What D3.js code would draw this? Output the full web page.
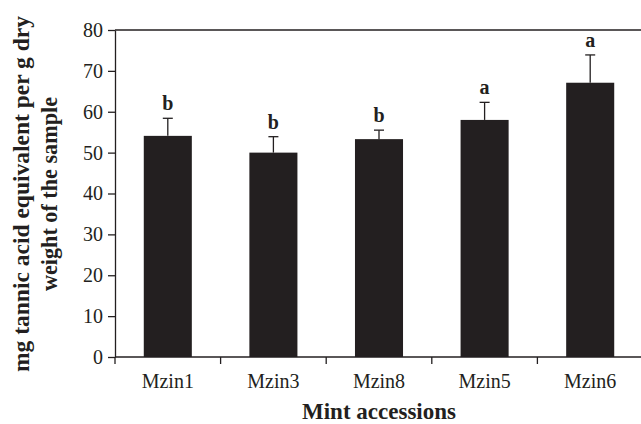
<!DOCTYPE html>
<html><head><meta charset="utf-8">
<script src="https://cdn.jsdelivr.net/npm/d3@7"></script>
<style>html,body{margin:0;padding:0;background:#fff;overflow:hidden}</style>
</head><body>
<svg id="c" width="641" height="424"></svg>
<script>
const categories = ["Mzin1", "Mzin3", "Mzin8", "Mzin5", "Mzin6"];
const means = [54.1, 50.0, 53.3, 58.0, 67.1];
const errors = [4.3, 3.9, 2.2, 4.3, 6.8];
const letters = ["b", "b", "b", "a", "a"];
const yTicks = [0, 10, 20, 30, 40, 50, 60, 70, 80];

const svg = d3.select("#c");
const L = 115, R = 643, T = 30, B = 357;
const ink = "#231f20";
const serif = "'Liberation Serif', 'Times New Roman', serif";

const x = d3.scaleBand().domain(categories).range([L, R]).paddingInner(0.545).paddingOuter(0.2725);
const y = d3.scaleLinear().domain([0, 80]).range([B, T]);
const step = x.step();

// top border
svg.append("line").attr("x1", L).attr("x2", R).attr("y1", T).attr("y2", T)
  .attr("stroke", ink).attr("stroke-width", 1.3);

// y axis
const ya = svg.append("g").attr("transform", `translate(${L},0)`)
  .call(d3.axisLeft(y).tickValues(yTicks).tickSize(7).tickSizeOuter(0).tickPadding(5));
ya.attr("font-size", null).attr("font-family", null);
ya.selectAll("path,line").attr("stroke", ink).attr("stroke-width", 1.3);
ya.selectAll("text").attr("font-family", serif).attr("font-size", 20).attr("fill", ink);

// bars
const data = categories.map((c, i) => ({c, m: means[i], e: errors[i], l: letters[i]}));
svg.selectAll("rect.bar").data(data).join("rect").attr("class", "bar")
  .attr("x", d => x(d.c)).attr("width", x.bandwidth())
  .attr("y", d => y(d.m)).attr("height", d => y(0) - y(d.m))
  .attr("fill", ink);

// error bars
const eb = svg.selectAll("g.eb").data(data).join("g").attr("class", "eb");
eb.append("line")
  .attr("x1", d => x(d.c) + x.bandwidth() / 2).attr("x2", d => x(d.c) + x.bandwidth() / 2)
  .attr("y1", d => y(d.m)).attr("y2", d => y(d.m + d.e))
  .attr("stroke", ink).attr("stroke-width", 1.3);
eb.append("line")
  .attr("x1", d => x(d.c) + x.bandwidth() / 2 - 5).attr("x2", d => x(d.c) + x.bandwidth() / 2 + 5)
  .attr("y1", d => y(d.m + d.e)).attr("y2", d => y(d.m + d.e))
  .attr("stroke", ink).attr("stroke-width", 1.3);
eb.append("text")
  .attr("x", d => x(d.c) + x.bandwidth() / 2).attr("y", d => y(d.m + d.e) - 8)
  .attr("text-anchor", "middle").attr("font-family", serif).attr("font-weight", "bold")
  .attr("font-size", 20).attr("fill", ink).text(d => d.l);

// x axis line
svg.append("line").attr("x1", L).attr("x2", R).attr("y1", B).attr("y2", B)
  .attr("stroke", ink).attr("stroke-width", 1.3);
// boundary ticks
const bounds = [L].concat(categories.slice(0, -1).map(c => x(c) + x.bandwidth() + step * x.paddingInner() / 2));
svg.selectAll("line.xt").data(bounds).join("line").attr("class", "xt")
  .attr("x1", d => d).attr("x2", d => d).attr("y1", B).attr("y2", B + 7)
  .attr("stroke", ink).attr("stroke-width", 1.3);
// category labels
svg.selectAll("text.cat").data(categories).join("text").attr("class", "cat")
  .attr("x", d => x(d) + x.bandwidth() / 2).attr("y", 388)
  .attr("text-anchor", "middle").attr("font-family", serif).attr("font-size", 20)
  .attr("fill", ink).text(d => d);

// axis titles
svg.append("text").attr("x", 379).attr("y", 419).attr("text-anchor", "middle")
  .attr("font-family", serif).attr("font-weight", "bold").attr("font-size", 23)
  .attr("fill", ink).text("Mint accessions");
const yt = svg.append("text").attr("transform", "translate(0,194) rotate(-90)")
  .attr("text-anchor", "middle").attr("font-family", serif).attr("font-weight", "bold")
  .attr("font-size", 24).attr("fill", ink);
yt.append("tspan").attr("x", 0).attr("y", 29).attr("textLength", 356).attr("lengthAdjust", "spacingAndGlyphs")
  .text("mg tannic acid equivalent per g dry");
yt.append("tspan").attr("x", 0).attr("y", 57).attr("textLength", 194).attr("lengthAdjust", "spacingAndGlyphs")
  .text("weight of the sample");
</script>
</body></html>
